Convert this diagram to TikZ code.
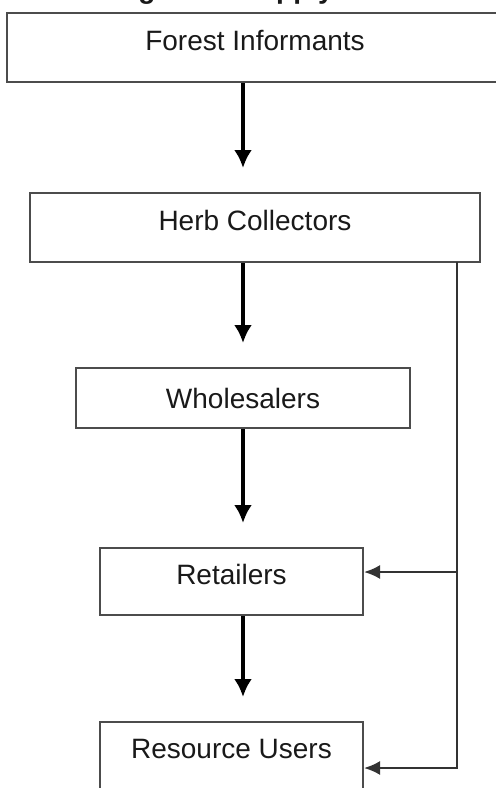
\documentclass[tikz,border=0pt]{standalone}
\usepackage{fontspec}
\setmainfont{Liberation Sans}
\usetikzlibrary{arrows.meta}

\begin{document}
\begin{tikzpicture}[
                      x = 0.5pt,
                      y = -0.5pt,
      every node/.style = {font=\fontsize{14}{16}\selectfont, text=black!90, inner sep=0pt},
           stage/.style = {draw=black!70, line width=1pt, minimum height=34.5pt, text depth=7pt},
            flow/.style = {draw, line width=2pt, -{Latex[length=9pt,width=9pt]}, shorten >=12pt},
            feed/.style = {draw=black!80, line width=1.1pt, -{Latex[length=8pt,width=7pt]}},
                     ]
\clip (0,0) rectangle (496,788);
% title, cut off by the page edge
\node[anchor=base west, font=\fontsize{14}{16}\selectfont\bfseries] (title) at (113,-2) {Figure 2. Supply Chain};

\node[stage, minimum width=248pt] (forest) at (255,47.5)  {Forest Informants};
\node[stage, minimum width=225pt] (herb)   at (255,227.5) {Herb Collectors};
\node[stage, minimum width=167pt, minimum height=30pt, text depth=0pt] (whole) at (243,398) {Wholesalers};
\node[stage, minimum width=131.5pt, minimum height=33.5pt] (retail) at (231.5,581.5) {Retailers};
\node[stage, minimum width=131.5pt, minimum height=33.5pt] (users)  at (231.5,755.5) {Resource Users};

% main chain
\draw[flow] (forest.south -| whole) -- (herb.north -| whole);
\draw[flow] (herb.south -| whole)   -- (whole.north);
\draw[flow] (whole.south)           -- (retail.north -| whole);
\draw[flow] (retail.south -| whole) -- (users.north -| whole);

% direct sales from collectors
\coordinate (bus) at (457,262);
\draw[feed] (bus) |- ([yshift=4.75pt]retail.east);
\draw[feed] (bus) |- ([yshift=-6.25pt]users.east);
\end{tikzpicture}
\end{document}
